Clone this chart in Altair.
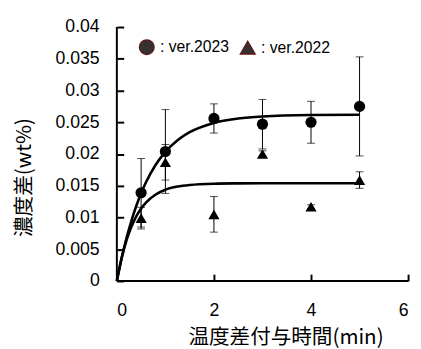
import altair as alt
import pandas as pd

# measured points (x = minutes)
x_pts = [0.5, 1, 2, 3, 4, 5]
y2023 = [0.0139, 0.0204, 0.0256, 0.0247, 0.0250, 0.0275]
e2023 = [0.0054, 0.0066, 0.0023, 0.0039, 0.0033, 0.0078]
y2022 = [0.0099, 0.0187, 0.0105, 0.0200, 0.0117, 0.0159]
e2022 = [0.0017, 0.0028, 0.0028, 0.0005, 0.0003, 0.0013]

# fitted curves
fit_x = [0, 0.1, 0.2, 0.3, 0.4, 0.5, 0.6, 0.8, 1.0, 1.25, 1.5, 2, 2.5, 3, 4, 5]
fit2023 = [0, 0.00365, 0.00679, 0.00949, 0.01182, 0.01382, 0.01555, 0.01831,
           0.02035, 0.02218, 0.02344, 0.02490, 0.02558, 0.02591, 0.02614, 0.02619]
fit2022 = [0, 0.00364, 0.00643, 0.00855, 0.01017, 0.01141, 0.01235, 0.01362,
           0.01437, 0.01487, 0.01513, 0.01533, 0.01538, 0.01540, 0.01540, 0.01540]

versions = ["ver.2023", "ver.2022"]
x_ticks = [0, 2, 4, 6]
y_ticks = [0, 0.005, 0.01, 0.015, 0.02, 0.025, 0.03, 0.035, 0.04]
x_dom = [0, 6]
y_dom = [0, 0.04]

pts = pd.DataFrame({
    "x": x_pts * 2,
    "y": y2023 + y2022,
    "e": e2023 + e2022,
    "ver": [versions[0]] * len(x_pts) + [versions[1]] * len(x_pts),
})
pts["lo"] = pts["y"] - pts["e"]
pts["hi"] = pts["y"] + pts["e"]

fits = pd.DataFrame({
    "x": fit_x * 2,
    "y": fit2023 + fit2022,
    "ver": [versions[0]] * len(fit_x) + [versions[1]] * len(fit_x),
})

frame = pd.DataFrame({"x0": [x_dom[0]], "x1": [x_dom[1]], "y0": [y_dom[0]], "y1": [y_dom[1]]})

xs = alt.Scale(domain=x_dom, nice=False, zero=False)
ys = alt.Scale(domain=y_dom, nice=False, zero=False)

x_axis = alt.Axis(values=x_ticks, offset=-7, tickSize=7, tickWidth=2, tickColor="black",
                  domain=False, grid=False, labelPadding=21, labelFontSize=18,
                  labelFont="Liberation Sans", labelColor="black",
                  title="温度差付与時間(min)", titleFont="Noto Sans CJK JP",
                  titleFontSize=21, titleFontWeight="normal", titleColor="black",
                  titleX=172, titleY=65, titleBaseline="middle", titleAlign="center")
y_axis = alt.Axis(values=y_ticks, offset=-7, tickSize=7, tickWidth=2, tickColor="black",
                  domain=False, grid=False, labelPadding=18, labelFontSize=18,
                  labelFont="Liberation Sans", labelColor="black", format="~g",
                  title="濃度差(wt%)", titleFont="Noto Sans CJK JP",
                  titleFontSize=21, titleFontWeight="normal", titleColor="black",
                  titleX=-101, titleY=153, titleBaseline="middle", titleAlign="center")


def X(f):
    return alt.X(f, scale=xs, axis=x_axis)


def Y(f):
    return alt.Y(f, scale=ys, axis=y_axis)


base_pts = alt.Chart(pts)

lines = alt.Chart(fits).mark_line(color="black", strokeWidth=2.6, interpolate="monotone").encode(
    x=X("x:Q"), y=Y("y:Q"), detail="ver:N",
)

err = base_pts.mark_rule(color="black", strokeWidth=1).encode(
    x=X("x:Q"), y=Y("lo:Q"), y2="hi:Q",
)
cap_lo = base_pts.mark_tick(color="black", thickness=1, size=8, orient="horizontal").encode(
    x=X("x:Q"), y=Y("lo:Q"),
)
cap_hi = base_pts.mark_tick(color="black", thickness=1, size=8, orient="horizontal").encode(
    x=X("x:Q"), y=Y("hi:Q"),
)

shape_scale = alt.Scale(domain=versions, range=["circle", "triangle-up"])

points = base_pts.mark_point(filled=True, color="black", opacity=1, size=130).encode(
    x=X("x:Q"), y=Y("y:Q"),
    shape=alt.Shape("ver:N", scale=shape_scale, legend=None),
)

# legend-only layer (no rows drawn), styled like the reference legend symbols
legend_layer = base_pts.transform_filter("datum.x < 0").mark_point(
    filled=True, fill="#333333", stroke="#5c1a1a", strokeWidth=1.5, opacity=1, size=130
).encode(
    x=X("x:Q"), y=Y("y:Q"),
    shape=alt.Shape("ver:N", scale=shape_scale,
                    legend=alt.Legend(orient="none", legendX=22, legendY=12, direction="horizontal",
                                      title=None, labelFontSize=16, labelFont="Liberation Sans",
                                      labelColor="black", symbolSize=220,
                                      labelOffset=5, columnPadding=8,
                                      labelExpr="': ' + datum.label")),
)

yline = alt.Chart(frame).mark_rule(color="black", strokeWidth=2).encode(
    x=X("x0:Q"), y=Y("y0:Q"), y2="y1:Q",
)
xline = alt.Chart(frame).mark_rule(color="black", strokeWidth=2).encode(
    x=X("x0:Q"), x2="x1:Q", y=Y("y0:Q"),
)

chart = alt.layer(lines, err, cap_lo, cap_hi, points, legend_layer, yline, xline).resolve_legend(
    shape="independent"
).properties(
    width=297, height=259,
    autosize=alt.AutoSizeParams(type="none"),
    padding={"left": 111, "top": 16, "right": 5, "bottom": 70},
    background="white",
).configure_view(stroke=None)

chart.save("out.html", embed_options={"renderer": "svg", "actions": False})
